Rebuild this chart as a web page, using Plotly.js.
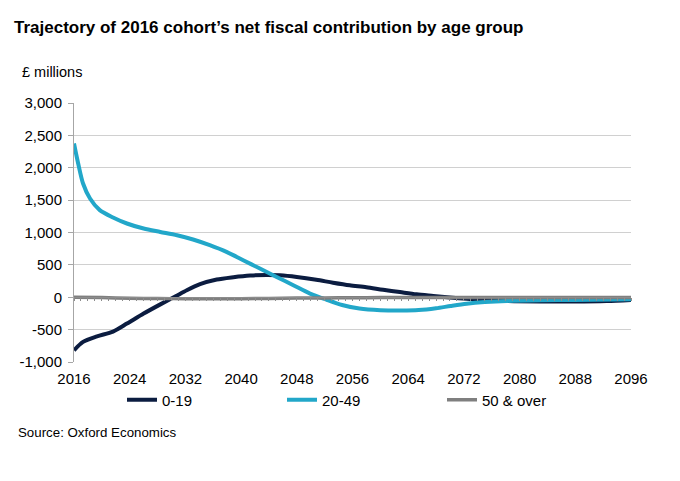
<!DOCTYPE html>
<html>
<head>
<meta charset="utf-8">
<script src="https://cdn.plot.ly/plotly-3.0.1.min.js"></script>
<style>
html,body{margin:0;padding:0;background:#fff;}
#chart{width:680px;height:481px;}
</style>
</head>
<body>
<div id="chart"></div>
<script>
// Data (£ millions)
const youngYears = [2016, 2017.3, 2019.3, 2021.6, 2023.6, 2026, 2028.4, 2030.6, 2032.2, 2034.1, 2036.5, 2038.9, 2041.3, 2043.7, 2045.6, 2048, 2050.8, 2053.2, 2055.6, 2058, 2060.4, 2062.8, 2065.2, 2067.6, 2070, 2072.4, 2075.3, 2078.2, 2083, 2087.8, 2092.5, 2096];
const youngValues = [-820, -690, -605, -530, -407, -252, -110, 15, 108, 201, 273, 309, 335, 345, 338, 312, 270, 225, 185, 155, 115, 80, 45, 20, -5, -25, -45, -58, -65, -65, -57, -41];

const midYears = [2016, 2016.6, 2017.3, 2018.3, 2019.7, 2021.6, 2023.6, 2026, 2028.4, 2030.8, 2033.1, 2035.5, 2037.9, 2040.3, 2042.7, 2045.1, 2047.5, 2049.9, 2052.3, 2054.5, 2057, 2060, 2063, 2065.5, 2068, 2070.1, 2072.4, 2075, 2078.2, 2083, 2087.8, 2096];
const midValues = [2376, 2066, 1757, 1525, 1345, 1232, 1139, 1061, 1009, 958, 892, 804, 701, 572, 443, 314, 186, 57, -40, -120, -175, -200, -205, -198, -170, -135, -100, -75, -57, -46, -41, -31];

const oldYears = [2016, 2020, 2024, 2028, 2032, 2036, 2040, 2044, 2048, 2052, 2056, 2060, 2064, 2068, 2072, 2076, 2080, 2084, 2088, 2092, 2096];
const oldValues = [0, -5, -15, -20, -22, -22, -22, -18, -12, -10, -8, -5, -5, -5, -5, -5, -5, -5, -5, -5, -5];

const seriesNames = ['0-19', '20-49', '50 & over'];
const xTicks = [2016, 2024, 2032, 2040, 2048, 2056, 2064, 2072, 2080, 2088, 2096];
const yTicks = [-1000, -500, 0, 500, 1000, 1500, 2000, 2500, 3000];
const yTickText = ['-1,000', '-500', '0', '500', '1,000', '1,500', '2,000', '2,500', '3,000'];

const FONT = 'Liberation Sans, Arial, sans-serif';

const traces = [
  {x: youngYears, y: youngValues, name: seriesNames[0], mode: 'lines', line: {color: '#0b1c40', width: 4, shape: 'spline', smoothing: 0.8}},
  {x: midYears, y: midValues, name: seriesNames[1], mode: 'lines', line: {color: '#22a7c9', width: 4, shape: 'spline', smoothing: 0.8}},
  {x: oldYears, y: oldValues, name: seriesNames[2], mode: 'lines', line: {color: '#7f7f7f', width: 3.5, shape: 'spline', smoothing: 0.8}},
  // invisible trace to anchor the zero-line category axis
  {x: [2016, 2096], y: [0, 0], xaxis: 'x2', mode: 'lines', line: {width: 0}, showlegend: false, hoverinfo: 'skip'}
];

const layout = {
  width: 680, height: 481,
  margin: {l: 74, r: 49, t: 103, b: 119},
  paper_bgcolor: '#ffffff', plot_bgcolor: '#ffffff',
  font: {family: FONT, size: 15, color: '#000000'},
  showlegend: true,
  legend: {
    orientation: 'h', x: 122/680, xref: 'container', xanchor: 'left', y: 1 - 400/481, yref: 'container', yanchor: 'middle',
    font: {family: FONT, size: 15, color: '#000'}, entrywidth: 115, entrywidthmode: 'pixels', tracegroupgap: 0,
    itemwidth: 30, bgcolor: 'rgba(0,0,0,0)'
  },
  xaxis: {
    range: [2016, 2096], tickvals: xTicks, ticktext: xTicks.map(String),
    showgrid: false, zeroline: false, showline: false, ticks: '', ticklabelstandoff: 6,
    tickfont: {family: FONT, size: 15, color: '#000'}
  },
  xaxis2: {
    range: [2016, 2096], overlaying: 'x', anchor: 'free', position: 0.25,
    showline: true, linecolor: '#8c8c8c', linewidth: 1,
    ticks: 'outside', dtick: 1, tick0: 2016, ticklen: 3, tickcolor: '#8c8c8c', tickwidth: 1,
    showticklabels: false, showgrid: false, zeroline: false
  },
  yaxis: {
    range: [-1000, 3000], tickvals: yTicks, ticktext: yTickText,
    showgrid: true, gridcolor: '#d0d0d0', gridwidth: 1, zeroline: false,
    showline: true, linecolor: '#a6a6a6', linewidth: 1,
    ticks: 'outside', ticklen: 5, tickcolor: '#a6a6a6', ticklabelstandoff: 3,
    tickfont: {family: FONT, size: 15, color: '#000'}
  },
  title: {
    text: '<b>Trajectory of 2016 cohort\u2019s net fiscal contribution by age group</b>',
    x: 14/680, xanchor: 'left', xref: 'container', y: 1 - 27/481, yanchor: 'middle', yref: 'container',
    font: {family: FONT, size: 17, color: '#000'}
  },
  annotations: [
    {text: '£ millions', xref: 'paper', yref: 'paper', x: -74/557 + 20/557, y: 1 + (103-72)/259, xanchor: 'left', yanchor: 'middle', showarrow: false, font: {family: FONT, size: 14.5, color: '#000'}},
    {text: 'Source: Oxford Economics', xref: 'paper', yref: 'paper', x: -74/557 + 16/557, y: -(432-362)/259, xanchor: 'left', yanchor: 'middle', showarrow: false, font: {family: FONT, size: 13.3, color: '#000'}}
  ]
};

Plotly.newPlot('chart', traces, layout, {staticPlot: true, displayModeBar: false});
</script>
</body>
</html>
